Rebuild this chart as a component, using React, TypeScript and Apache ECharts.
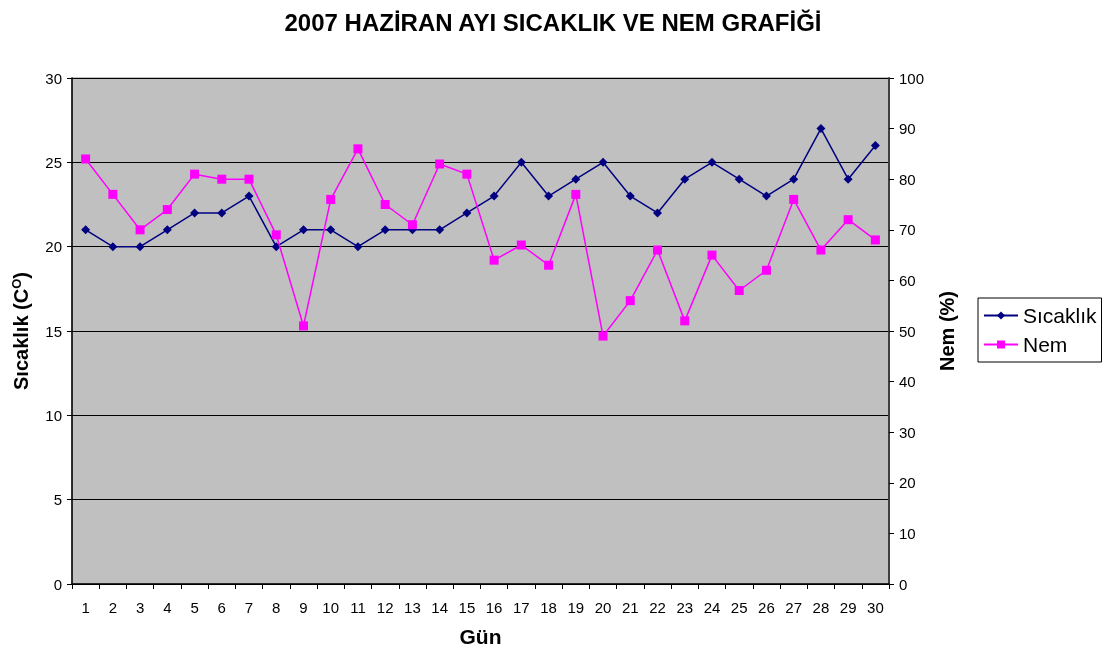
import React, { useEffect, useRef } from "react";
import * as echarts from "echarts";

const days = Array.from({ length: 30 }, (_, i) => String(i + 1));
const sicaklik = [21, 20, 20, 21, 22, 22, 23, 20, 21, 21, 20, 21, 21, 21, 22, 23, 25, 23, 24, 25, 23, 22, 24, 25, 24, 23, 24, 27, 24, 26];
const nem = [84, 77, 70, 74, 81, 80, 80, 69, 51, 76, 86, 75, 71, 83, 81, 64, 67, 63, 77, 49, 56, 66, 52, 65, 58, 62, 76, 66, 72, 68];

const FONT = "'Liberation Sans', Arial, sans-serif";

export default function App() {
  const ref = useRef<HTMLDivElement>(null);
  useEffect(() => {
    const chart = echarts.init(ref.current!, null, { renderer: "svg" });
    chart.setOption({
      animation: false,
      textStyle: { fontFamily: FONT },
      title: {
        text: "2007 HAZİRAN AYI SICAKLIK VE NEM GRAFİĞİ",
        left: 548,
        textAlign: "center",
        top: 5,
        textStyle: { fontSize: 24, fontWeight: "bold", color: "#000", fontFamily: FONT },
      },
      legend: {
        orient: "vertical",
        left: 978,
        top: 298,
        padding: [7, 5, 7, 5],
        borderColor: "#000",
        borderWidth: 1,
        backgroundColor: "#fff",
        itemWidth: 34,
        itemHeight: 10,
        itemGap: 8,
        textStyle: { fontSize: 21, color: "#000", fontFamily: FONT },
        data: ["Sıcaklık", "Nem"],
      },
      grid: {
        left: 72,
        top: 78,
        right: 220,
        bottom: 69,
        outerBoundsMode: "none",
        containLabel: false,
        show: true,
        backgroundColor: "#C0C0C0",
        borderColor: "#808080",
        borderWidth: 1,
      },
      xAxis: {
        type: "category",
        data: days,
        boundaryGap: true,
        name: "Gün",
        nameLocation: "middle",
        nameGap: 42,
        nameTextStyle: { fontSize: 21, fontWeight: "bold", color: "#000" },
        axisLine: { lineStyle: { color: "#000", width: 1.5 } },
        axisTick: { show: true, alignWithLabel: false, length: 5, lineStyle: { color: "#000" } },
        axisLabel: { fontSize: 15, color: "#000", margin: 16, interval: 0 },
      },
      yAxis: [
        {
          type: "value",
          min: 0,
          max: 30,
          interval: 5,
          position: "left",
          name: "{a|Sıcaklık (C}{b|O}{a|)}",
          nameLocation: "middle",
          nameRotate: 90,
          nameGap: 40,
          nameTextStyle: {
            rich: {
              a: { fontSize: 20, fontWeight: "bold", color: "#000", fontFamily: FONT },
              b: { fontSize: 13, fontWeight: "bold", color: "#000", fontFamily: FONT, verticalAlign: "top", padding: [0, 0, 9, 0] },
            },
          },
          axisLine: { show: true, lineStyle: { color: "#000", width: 1.5 } },
          axisTick: { show: true, length: 5, lineStyle: { color: "#000" } },
          axisLabel: { fontSize: 15, color: "#000", margin: 10 },
          splitLine: { show: true, lineStyle: { color: "#000", width: 1 } },
        },
        {
          type: "value",
          min: 0,
          max: 100,
          interval: 10,
          position: "right",
          name: "Nem (%)",
          nameLocation: "middle",
          nameRotate: 90,
          nameGap: 48,
          nameTextStyle: { fontSize: 20, fontWeight: "bold", color: "#000" },
          axisLine: { show: true, lineStyle: { color: "#404040", width: 2 } },
          axisTick: { show: true, length: 5, lineStyle: { color: "#000" } },
          axisLabel: { fontSize: 15, color: "#000", margin: 10 },
          splitLine: { show: false },
        },
      ],
      series: [
        {
          name: "Sıcaklık",
          type: "line",
          yAxisIndex: 0,
          data: sicaklik,
          symbol: "diamond",
          symbolSize: 9,
          itemStyle: { color: "#000080" },
          lineStyle: { color: "#000080", width: 1.5 },
          z: 3,
        },
        {
          name: "Nem",
          type: "line",
          yAxisIndex: 1,
          data: nem,
          symbol: "rect",
          symbolSize: 9,
          itemStyle: { color: "#FF00FF" },
          lineStyle: { color: "#FF00FF", width: 1.5 },
          z: 4,
        },
      ],
    });
    return () => chart.dispose();
  }, []);
  return <div ref={ref} style={{ position: "fixed", left: 0, top: 0, width: 1109, height: 653 }} />;
}
